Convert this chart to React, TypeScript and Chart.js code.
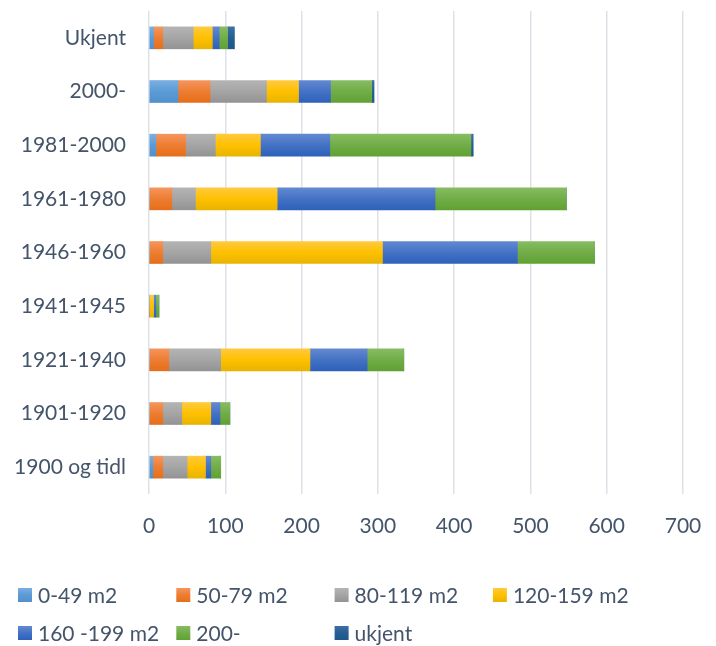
import React, { useEffect, useRef } from "react";
import { Chart, registerables } from "chart.js";

Chart.register(...registerables);

const categories = [
  "Ukjent",
  "2000-",
  "1981-2000",
  "1961-1980",
  "1946-1960",
  "1941-1945",
  "1921-1940",
  "1901-1920",
  "1900 og tidl",
];

const seriesNames = ["0-49 m2", "50-79 m2", "80-119 m2", "120-159 m2", "160 -199 m2", "200-", "ukjent"];

const s0_49 = [6, 38, 9, 0, 0, 0, 0, 0, 5];
const s50_79 = [12, 42, 39, 30, 18, 0, 26, 18, 13];
const s80_119 = [40, 74, 39, 31, 63, 0, 68, 25, 32];
const s120_159 = [25, 42, 59, 107, 225, 6, 117, 38, 24];
const s160_199 = [9, 42, 91, 207, 177, 3, 75, 12, 7];
const s200 = [11, 54, 185, 172, 101, 4, 48, 13, 13];
const sUkjent = [9, 3, 3, 0, 0, 0, 0, 0, 0];

const xTicks = [0, 100, 200, 300, 400, 500, 600, 700];

const seriesData = [s0_49, s50_79, s80_119, s120_159, s160_199, s200, sUkjent];

const gradStops: [string, string, string][] = [
  ["#7AAFE2", "#5B9BD5", "#5290CC"],
  ["#F5955D", "#ED7D31", "#E66E1A"],
  ["#B4B4B4", "#A5A5A5", "#939393"],
  ["#FFCA3D", "#FFC000", "#E8B400"],
  ["#6289D2", "#4472C4", "#2E61BB"],
  ["#87BC62", "#70AD47", "#61A133"],
  ["#3C70A4", "#255E91", "#1E578A"],
];

const FONT = "Lato, 'DejaVu Sans', sans-serif";
const TEXT = "#44546A";
const BAR_H = 22;

function makeGrad(ctx: CanvasRenderingContext2D, top: number, h: number, i: number) {
  const g = ctx.createLinearGradient(0, top, 0, top + h);
  g.addColorStop(0, gradStops[i][0]);
  g.addColorStop(0.5, gradStops[i][1]);
  g.addColorStop(1, gradStops[i][2]);
  return g;
}

const legendPlugin = {
  id: "gridLegend",
  afterDraw(chart: any) {
    const ctx: CanvasRenderingContext2D = chart.ctx;
    const startX = 18;
    const colW = 158.3;
    const rowY = [595, 633];
    const perRow = 4;
    ctx.save();
    ctx.font = `21px ${FONT}`;
    ctx.textBaseline = "middle";
    ctx.textAlign = "left";
    seriesNames.forEach((name, i) => {
      const r = Math.floor(i / perRow);
      const c = i % perRow;
      const x = startX + c * colW;
      const y = rowY[r];
      ctx.fillStyle = makeGrad(ctx, y - 7, 14, i);
      ctx.fillRect(x, y - 7, 14, 14);
      ctx.fillStyle = TEXT;
      ctx.fillText(name, x + 20, y + 1);
    });
    ctx.restore();
  },
};

export default function App() {
  const ref = useRef<HTMLCanvasElement | null>(null);
  useEffect(() => {
    if (!ref.current) return;
    const chart = new Chart(ref.current, {
      type: "bar",
      data: {
        labels: categories,
        datasets: seriesData.map((d, i) => ({
          label: seriesNames[i],
          data: d,
          borderWidth: 0,
          barThickness: BAR_H,
          backgroundColor: (context: any) => {
            const ch = context.chart;
            const ys = ch.scales && ch.scales.y;
            if (!ys || context.type !== "data") return gradStops[i][1];
            const yc = ys.getPixelForValue(context.dataIndex);
            if (!isFinite(yc)) return gradStops[i][1];
            return makeGrad(ch.ctx, yc - BAR_H / 2, BAR_H, i);
          },
        })),
      },
      options: {
        indexAxis: "y",
        animation: false,
        responsive: false,
        maintainAspectRatio: false,
        layout: { padding: { top: 11, right: 33, left: 0, bottom: 102 } },
        plugins: {
          legend: { display: false },
          tooltip: { enabled: false },
        },
        scales: {
          x: {
            stacked: true,
            min: 0,
            max: 700,
            afterFit: (scale: any) => {
              scale.height = 50;
              scale.paddingLeft = 0;
              scale.paddingRight = 0;
            },
            afterBuildTicks: (scale: any) => {
              scale.ticks = xTicks.map((v) => ({ value: v }));
            },
            grid: { color: "#DEE2E8", lineWidth: 1.5, drawTicks: false },
            border: { display: false },
            ticks: {
              color: TEXT,
              font: { family: FONT, size: 21 },
              padding: 20,
            },
          },
          y: {
            stacked: true,
            afterFit: (scale: any) => {
              scale.width = 149;
              scale.paddingTop = 0;
              scale.paddingBottom = 0;
            },
            grid: { display: false, drawTicks: false },
            border: { display: false },
            ticks: {
              color: TEXT,
              font: { family: FONT, size: 21 },
              padding: 23,
            },
          },
        },
      },
      plugins: [legendPlugin],
    } as any);
    return () => chart.destroy();
  }, []);
  return (
    <div style={{ position: "fixed", left: 0, top: 0, width: 716, height: 646, background: "#fff" }}>
      <canvas ref={ref} width={716} height={646} style={{ width: 716, height: 646, display: "block" }} />
    </div>
  );
}
